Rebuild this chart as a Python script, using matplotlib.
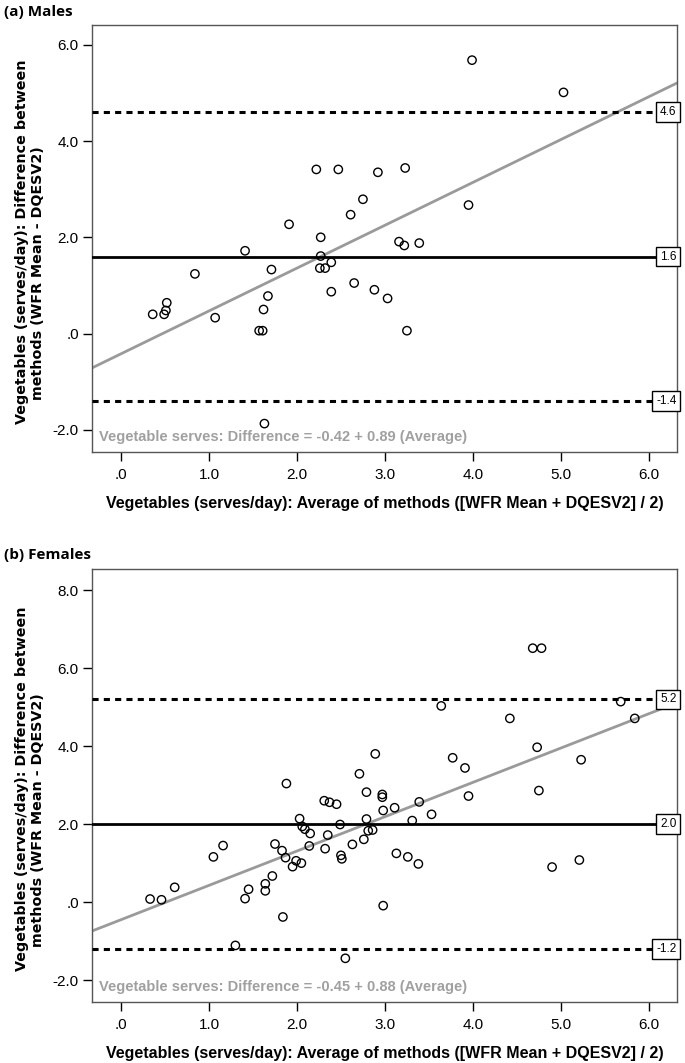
import matplotlib
matplotlib.use("Agg")
import matplotlib.pyplot as plt
import matplotlib.transforms as mtransforms
import numpy as np

# ---------------- data ----------------
male_avg = [0.36, 0.49, 0.51, 0.52, 0.84, 1.07, 1.41, 1.57, 1.61, 1.62, 1.67, 1.71, 1.63,
            1.91, 2.22, 2.26, 2.32, 2.27, 2.27, 2.39, 2.39, 2.47, 2.61, 2.65, 2.75, 2.88,
            2.92, 3.03, 3.16, 3.22, 3.23, 3.25, 3.39, 3.95, 3.99, 5.03]
male_diff = [0.40, 0.40, 0.48, 0.64, 1.24, 0.33, 1.72, 0.06, 0.06, 0.50, 0.78, 1.33, -1.87,
             2.27, 3.41, 1.36, 1.36, 2.00, 1.61, 1.48, 0.87, 3.41, 2.47, 1.05, 2.79, 0.91,
             3.35, 0.73, 1.91, 1.83, 3.44, 0.06, 1.88, 2.67, 5.68, 5.01]

female_avg = [0.33, 0.46, 0.61, 1.05, 1.16, 1.30, 1.41, 1.45, 1.64, 1.64, 1.72, 1.75, 1.83,
              1.84, 1.87, 1.88, 1.95, 1.99, 2.03, 2.05, 2.06, 2.09, 2.14, 2.15, 2.31, 2.32,
              2.35, 2.37, 2.45, 2.49, 2.50, 2.51, 2.55, 2.63, 2.71, 2.76, 2.79, 2.79, 2.81,
              2.86, 2.89, 2.97, 2.97, 2.98, 2.98, 3.11, 3.13, 3.26, 3.31, 3.38, 3.39, 3.53,
              3.64, 3.77, 3.91, 3.95, 4.42, 4.68, 4.73, 4.75, 4.78, 4.90, 5.21, 5.23, 5.68, 5.84]
female_diff = [0.08, 0.06, 0.38, 1.16, 1.45, -1.11, 0.09, 0.33, 0.47, 0.29, 0.67, 1.49, 1.32,
               -0.38, 1.14, 3.04, 0.91, 1.06, 2.14, 1.00, 1.94, 1.87, 1.44, 1.76, 2.60, 1.37,
               1.72, 2.56, 2.51, 1.99, 1.20, 1.11, -1.44, 1.48, 3.29, 1.61, 2.82, 2.13, 1.83,
               1.85, 3.80, 2.76, 2.69, 2.35, -0.09, 2.42, 1.25, 1.16, 2.09, 0.98, 2.57, 2.25,
               5.03, 3.70, 3.44, 2.72, 4.71, 6.51, 3.97, 2.86, 6.51, 0.90, 1.08, 3.65, 5.14, 4.71]

male_limits = {"upper": 4.6, "mean": 1.6, "lower": -1.4}
female_limits = {"upper": 5.2, "mean": 2.0, "lower": -1.2}
male_fit = (-0.42, 0.89)
female_fit = (-0.45, 0.88)

x_ticks = [0, 1, 2, 3, 4, 5, 6]
male_yticks = [-2, 0, 2, 4, 6]
female_yticks = [-2, 0, 2, 4, 6, 8]

ylabel_line1 = "Vegetables (serves/day): Difference between"
ylabel_line2 = "methods (WFR Mean - DQESV2)"
xlabel_text = "Vegetables (serves/day): Average of methods ([WFR Mean + DQESV2] / 2)"


def fmt(v):
    s = "%.1f" % v
    if s.startswith("0."):
        s = s[1:]
    if s.startswith("-0."):
        s = "-" + s[2:]
    return s


NARROW = ["Liberation Sans Narrow", "Liberation Sans", "DejaVu Sans"]
LABEL_FONT = ["DejaVu Sans"]

W, H = 685, 1063
fig = plt.figure(figsize=(W / 100, H / 100), dpi=100)


def panel(rect, avg, diff, limits, fit, yticks, ylim, title, title_y):
    ax = fig.add_axes(rect)
    ax.set_xlim(-0.33, 6.32)
    ax.set_ylim(*ylim)
    xx = np.array(ax.get_xlim())
    ax.plot(xx, fit[0] + fit[1] * xx, color="#9a9a9a", lw=2.0, zorder=2)
    ax.axhline(limits["mean"], color="black", lw=2.0, zorder=3)
    for k in ("upper", "lower"):
        ax.axhline(limits[k], color="black", lw=2.2, ls=(0, (2.0, 1.7)), zorder=3)
    ax.scatter(avg, diff, s=36, facecolors="none", edgecolors="black", linewidths=1.0, zorder=4)
    trans = mtransforms.blended_transform_factory(ax.transAxes, ax.transData)
    for k in ("upper", "mean", "lower"):
        ax.text(0.999, limits[k], fmt(limits[k]), transform=trans, ha="right", va="center",
                fontsize=8.5, family=NARROW, zorder=6,
                bbox=dict(boxstyle="square,pad=0.32", fc="white", ec="black", lw=1.0))
    ax.text(0.012, 0.035, "Vegetable serves: Difference = %.2f + %.2f (Average)" % fit,
            transform=ax.transAxes, ha="left", va="center", color="#a0a0a0",
            fontsize=10.5, fontweight="bold", family=NARROW, zorder=5)
    ax.set_xticks(x_ticks)
    ax.set_xticklabels([fmt(v) for v in x_ticks], family=NARROW, fontsize=11)
    ax.set_yticks(yticks)
    ax.set_yticklabels([fmt(v) for v in yticks], family=NARROW, fontsize=11)
    ax.tick_params(direction="out", length=6.5, width=1, color="black", pad=3)
    ax.tick_params(axis="x", pad=5)
    for sp in ax.spines.values():
        sp.set_color("#555555")
        sp.set_linewidth(1.0)
    ax.set_xlabel(xlabel_text, family=NARROW, fontweight="bold", fontsize=11.5, labelpad=10)
    # two-line y label, placed line by line
    pos = ax.get_position()
    yc = pos.y0 + pos.height / 2
    fig.text(22 / W, yc - 3 / H, ylabel_line1, rotation=90, ha="center", va="center",
             family=LABEL_FONT, fontweight="bold", fontsize=10.3)
    fig.text(38 / W, yc - 35 / H, ylabel_line2, rotation=90, ha="center", va="center",
             family=LABEL_FONT, fontweight="bold", fontsize=10.3)
    fig.text(0.006, title_y, title, ha="left", va="center", fontsize=11,
             fontweight="bold", family=["Open Sans", "DejaVu Sans"])
    return ax


panel([92 / W, 1 - 452 / H, 585 / W, 427 / H], male_avg, male_diff, male_limits, male_fit,
      male_yticks, (-2.46, 6.41), "(a) Males", 1 - 12 / H)
panel([92 / W, 1 - 1002 / H, 585 / W, 433 / H], female_avg, female_diff, female_limits,
      female_fit, female_yticks, (-2.56, 8.54), "(b) Females", 1 - 555 / H)

fig.savefig("out.png", dpi=100)
